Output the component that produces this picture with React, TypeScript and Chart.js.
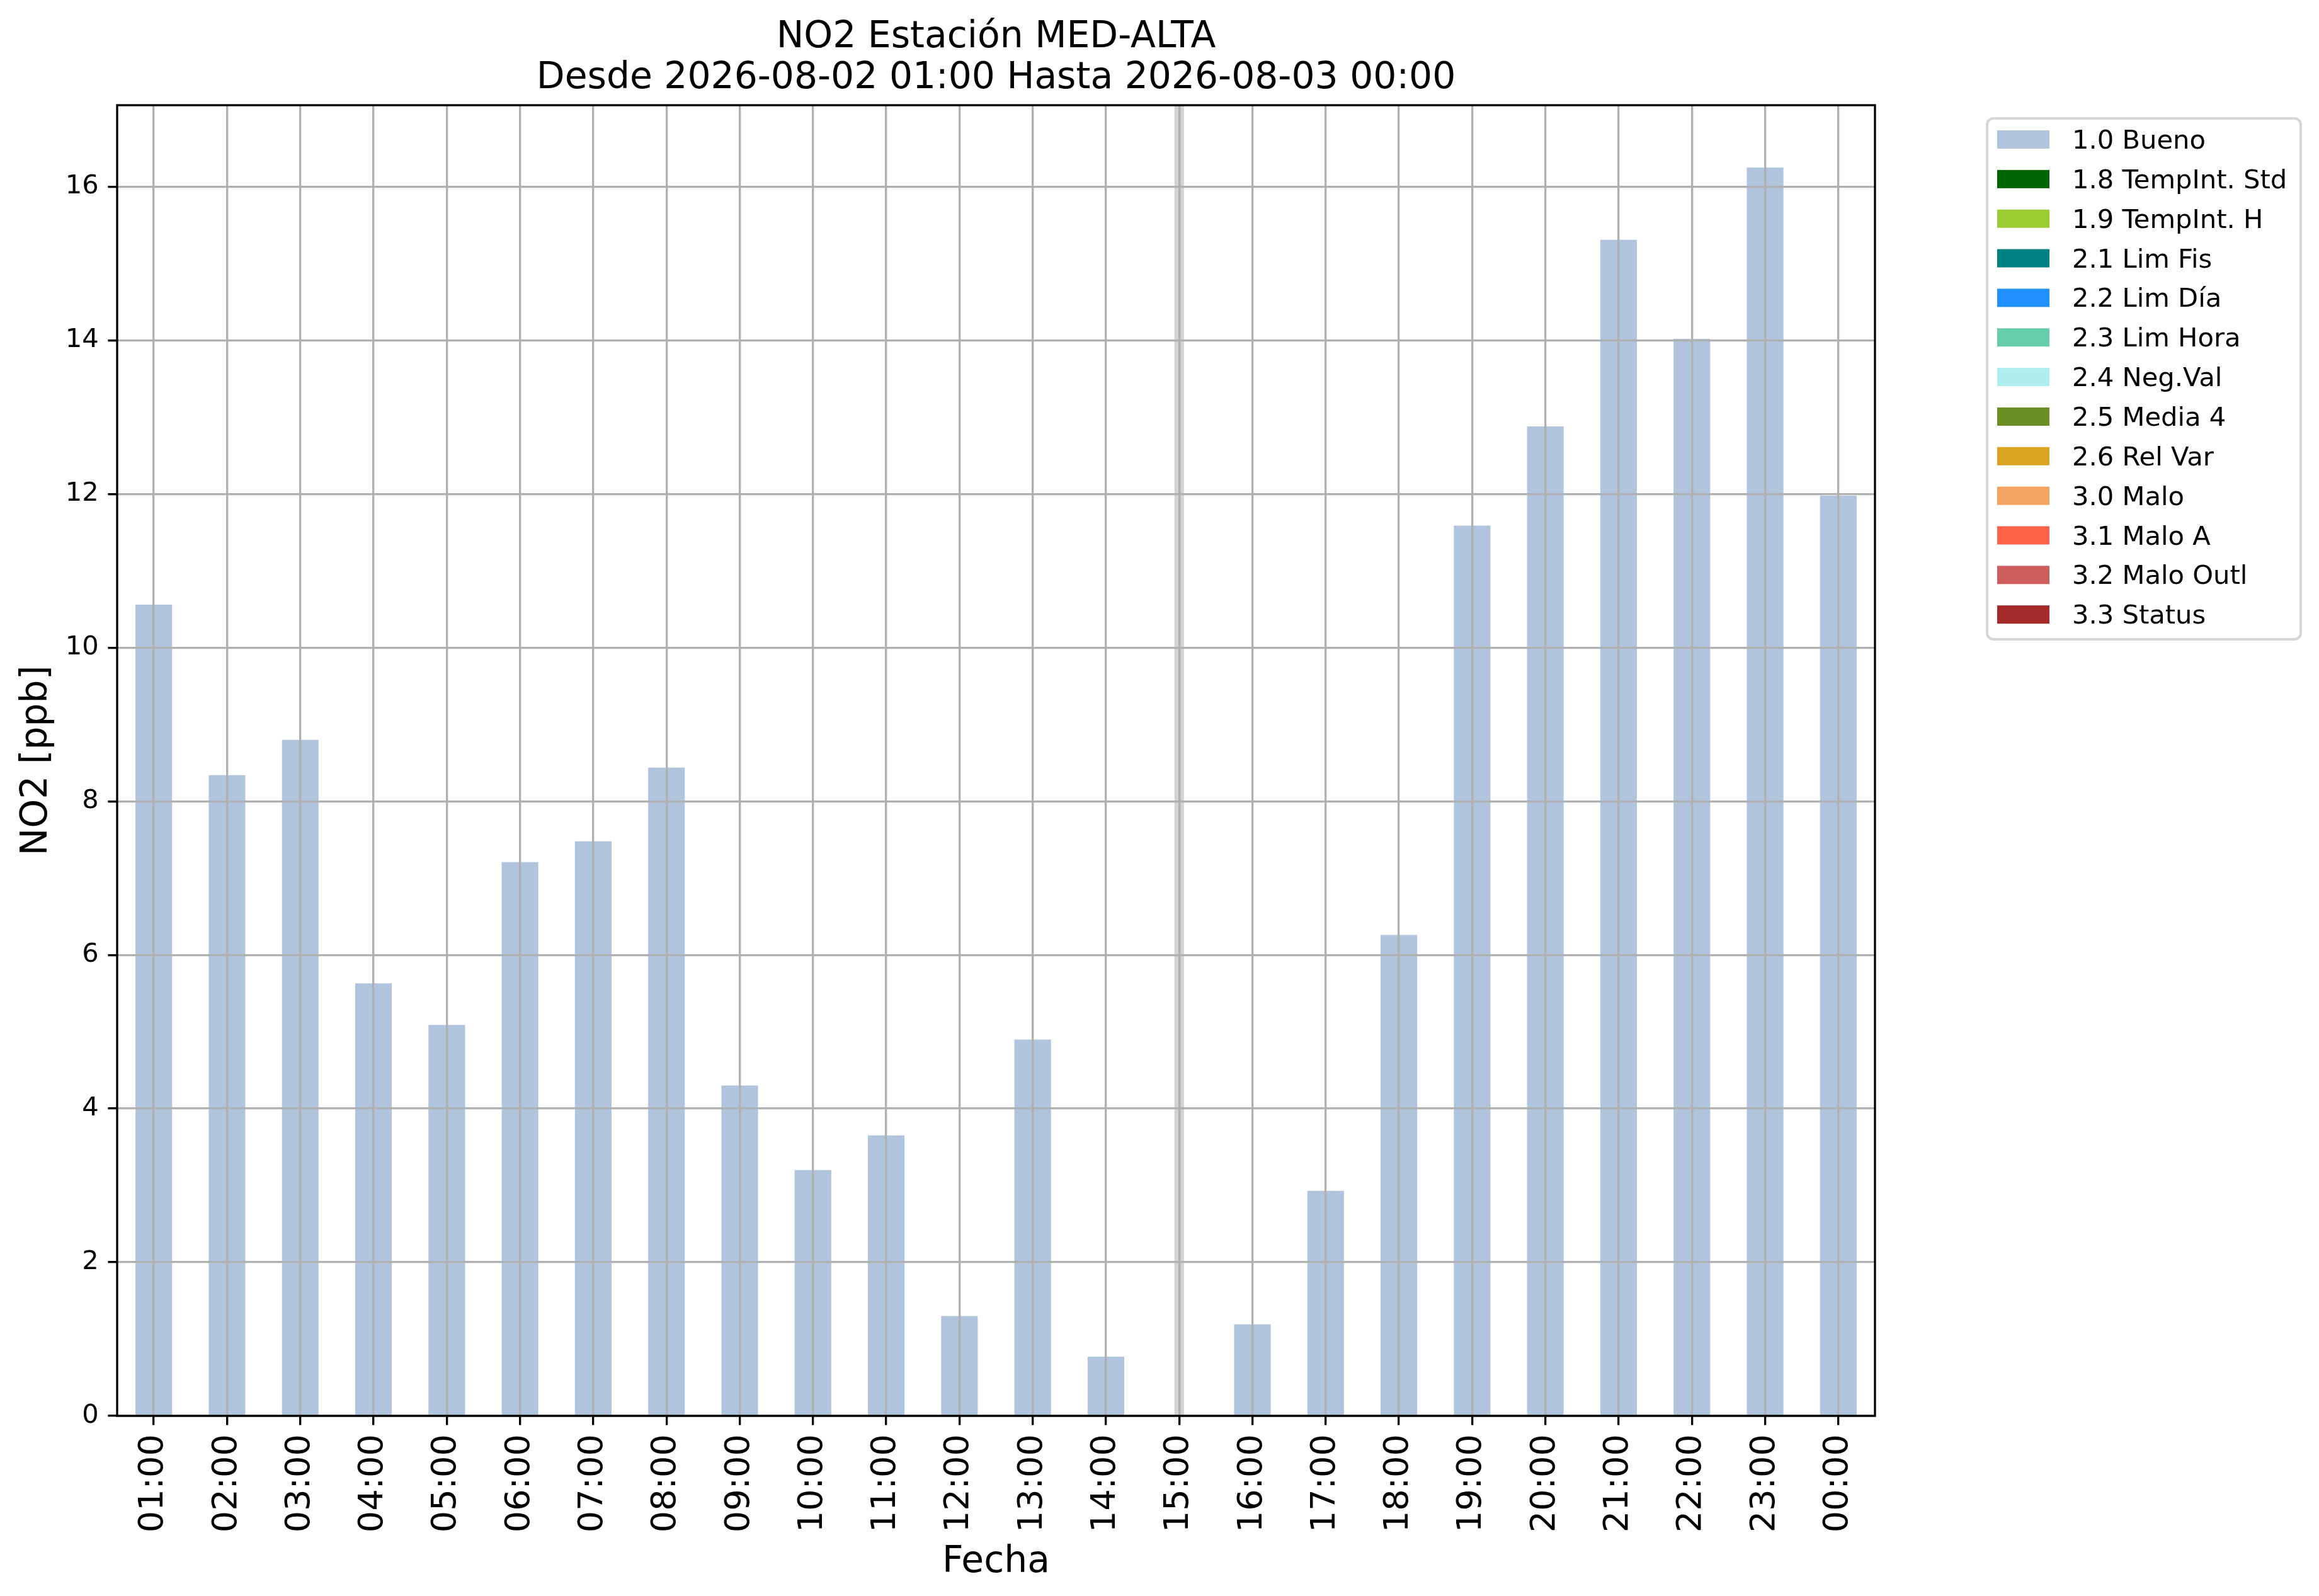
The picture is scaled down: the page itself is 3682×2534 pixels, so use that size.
import React, { useEffect, useRef } from "react";
import { Chart, registerables } from "chart.js";

Chart.register(...registerables);

const hours = [
  "01:00", "02:00", "03:00", "04:00", "05:00", "06:00", "07:00", "08:00",
  "09:00", "10:00", "11:00", "12:00", "13:00", "14:00", "15:00", "16:00",
  "17:00", "18:00", "19:00", "20:00", "21:00", "22:00", "23:00", "00:00",
];

// NO2 [ppb], flag 1.0 Bueno (15:00 has no value)
const bueno = [
  10.56, 8.34, 8.8, 5.63, 5.09, 7.21, 7.48, 8.44, 4.3, 3.2, 3.65, 1.3,
  4.9, 0.77, null, 1.19, 2.93, 6.26, 11.59, 12.88, 15.31, 14.02, 16.25, 11.98,
];

const flagLabels = [
  "1.0 Bueno", "1.8 TempInt. Std", "1.9 TempInt. H", "2.1 Lim Fis", "2.2 Lim Día",
  "2.3 Lim Hora", "2.4 Neg.Val", "2.5 Media 4", "2.6 Rel Var", "3.0 Malo",
  "3.1 Malo A", "3.2 Malo Outl", "3.3 Status",
];

const flagColors = [
  "#b0c4de", "#006400", "#9acd32", "#008080", "#1e90ff", "#66cdaa", "#afeeee",
  "#6b8e23", "#daa520", "#f4a460", "#ff6347", "#cd5c5c", "#a52a2a",
];

const missingHours = ["15:00"];

const titleLines = [
  "NO2 Estación MED-ALTA",
  "Desde 2026-08-02 01:00 Hasta 2026-08-03 00:00",
];
const xTitle = "Fecha";
const yTitle = "NO2 [ppb]";

const W = 3682;
const H = 2534;
const FONT = '"DejaVu Sans", "Liberation Sans", sans-serif';
const PT = 300 / 72;

const decor = {
  id: "decor",
  beforeDatasetsDraw(chart: any) {
    const { ctx, chartArea: a, scales } = chart;
    const x = scales.x;
    const step = x.getPixelForValue(1) - x.getPixelForValue(0);
    const w = step * 0.13;
    ctx.save();
    ctx.fillStyle = "#d3d3d3";
    missingHours.forEach((h) => {
      const px = x.getPixelForValue(hours.indexOf(h));
      ctx.fillRect(px - w / 2, a.top, w, a.bottom - a.top);
    });
    ctx.restore();
  },
  afterDraw(chart: any) {
    const { ctx, chartArea: a } = chart;
    ctx.save();

    // axes frame
    ctx.strokeStyle = "#000";
    ctx.lineWidth = 0.8 * PT;
    ctx.strokeRect(a.left, a.top, a.right - a.left, a.bottom - a.top);

    // title
    const cx = (a.left + a.right) / 2;
    ctx.fillStyle = "#000";
    ctx.textAlign = "center";
    ctx.textBaseline = "alphabetic";
    ctx.font = `${14 * PT}px ${FONT}`;
    ctx.fillText(titleLines[0], cx, 75);
    ctx.fillText(titleLines[1], cx, 140);

    // axis titles
    ctx.fillText(xTitle, cx, 2496);
    ctx.save();
    ctx.translate(74, (a.top + a.bottom) / 2);
    ctx.rotate(-Math.PI / 2);
    ctx.fillText(yTitle, 0, 0);
    ctx.restore();

    // legend
    const lx = a.right + 178;
    const ly = a.top + 21;
    const lw = 498;
    const lh = 827;
    ctx.fillStyle = "#ffffff";
    ctx.strokeStyle = "#d6d6d6";
    ctx.lineWidth = 1 * PT;
    ctx.beginPath();
    ctx.roundRect(lx, ly, lw, lh, 10);
    ctx.fill();
    ctx.stroke();

    ctx.font = `${10 * PT}px ${FONT}`;
    ctx.textAlign = "left";
    chart.data.datasets.forEach((ds: any, i: number) => {
      const top = ly + 19 + i * 62.85;
      ctx.fillStyle = ds.backgroundColor;
      ctx.fillRect(lx + 16, top, 83, 29);
      ctx.fillStyle = "#000";
      ctx.fillText(ds.label, lx + 135, top + 29);
    });

    ctx.restore();
  },
};

const App: React.FC = () => {
  const canvasRef = useRef<HTMLCanvasElement | null>(null);

  useEffect(() => {
    if (!canvasRef.current) return;
    const ctx = canvasRef.current.getContext("2d");
    if (!ctx) return;

    const maxVal = Math.max(...(bueno.filter((v) => v !== null) as number[]));

    const datasets = flagLabels.map((label, i) => ({
      label,
      data: i === 0 ? bueno : hours.map(() => null),
      backgroundColor: flagColors[i],
      borderWidth: 0,
      categoryPercentage: 1,
      barPercentage: 0.5,
    }));

    const chart = new Chart(ctx, {
      type: "bar",
      data: { labels: hours, datasets },
      options: {
        animation: false,
        responsive: false,
        devicePixelRatio: 1,
        layout: { padding: { top: 167, right: W - 2977, left: 0, bottom: 0 } },
        plugins: {
          legend: { display: false },
          title: { display: false },
          tooltip: { enabled: false },
        },
        scales: {
          x: {
            stacked: true,
            afterFit: (scale: any) => {
              scale.height = H - 2248;
            },
            border: { display: false },
            grid: {
              z: 1,
              offset: false,
              color: "#b0b0b0",
              lineWidth: 0.8 * PT,
              drawTicks: true,
              tickLength: 3.5 * PT,
              tickColor: "#000",
              tickWidth: 0.8 * PT,
            },
            ticks: {
              autoSkip: false,
              minRotation: 90,
              maxRotation: 90,
              padding: 3.5 * PT,
              color: "#000",
              font: { family: FONT, size: 13 * PT },
            },
          },
          y: {
            stacked: true,
            min: 0,
            max: maxVal * 1.05,
            afterFit: (scale: any) => {
              scale.width = 186;
            },
            afterBuildTicks: (scale: any) => {
              scale.ticks = scale.ticks.filter((t: any) => Math.abs(t.value % 2) < 1e-9);
            },
            border: { display: false },
            grid: {
              z: 1,
              color: "#b0b0b0",
              lineWidth: 0.8 * PT,
              drawTicks: true,
              tickLength: 3.5 * PT,
              tickColor: "#000",
              tickWidth: 0.8 * PT,
            },
            ticks: {
              stepSize: 2,
              padding: 3.5 * PT,
              color: "#000",
              font: { family: FONT, size: 10 * PT },
              callback: (v: any) => String(v),
            },
          },
        },
      },
      plugins: [decor],
    });

    return () => {
      chart.destroy();
    };
  }, []);

  return (
    <div style={{ position: "absolute", left: 0, top: 0, width: W, height: H, background: "#fff" }}>
      <canvas ref={canvasRef} width={W} height={H} style={{ width: W, height: H }}></canvas>
    </div>
  );
};

export default App;
